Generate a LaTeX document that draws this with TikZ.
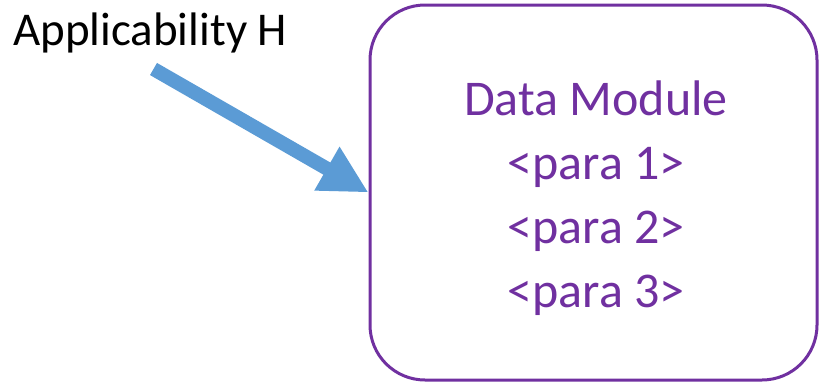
\documentclass[tikz,border=0pt]{standalone}
\usepackage{fontspec}
\setmainfont{Carlito}
\usetikzlibrary{arrows.meta}
\definecolor{dmpurple}{HTML}{7030A0}
\definecolor{arrowblue}{HTML}{5B9BD5}
\tikzset{
  dmbox/.style={draw=dmpurple, line width=3pt, rounded corners=55pt, rectangle,
                minimum width=447pt, minimum height=375pt, inner sep=0pt},
  dmtext/.style={text=dmpurple, font=\fontsize{50pt}{64pt}\selectfont, anchor=base, inner sep=0pt},
  labeltext/.style={text=black, font=\fontsize{47pt}{56pt}\selectfont, anchor=base west, inner sep=0pt},
  bigarrow/.style={draw=arrowblue, line width=14pt, -{Triangle[width=47pt,length=48pt]}, shorten >=0pt}
}
\begin{document}
\begin{tikzpicture}[x=1pt,y=-1pt]
  \useasboundingbox (0,0) rectangle (821,383);
  \node[dmbox] (box) at (593.5,192.5) {};
  \node[dmtext] (dm) at (596,115) {Data Module};
  \node[dmtext] (p1) at (596,179) {<para 1>};
  \node[dmtext] (p2) at (596,243) {<para 2>};
  \node[dmtext] (p3) at (596,307) {<para 3>};
  \node[labeltext] (app) at (13,45) {Applicability H};
  \coordinate (astart) at (153.5,69);
  \draw[bigarrow] (astart) -- (box.west);
\end{tikzpicture}
\end{document}
